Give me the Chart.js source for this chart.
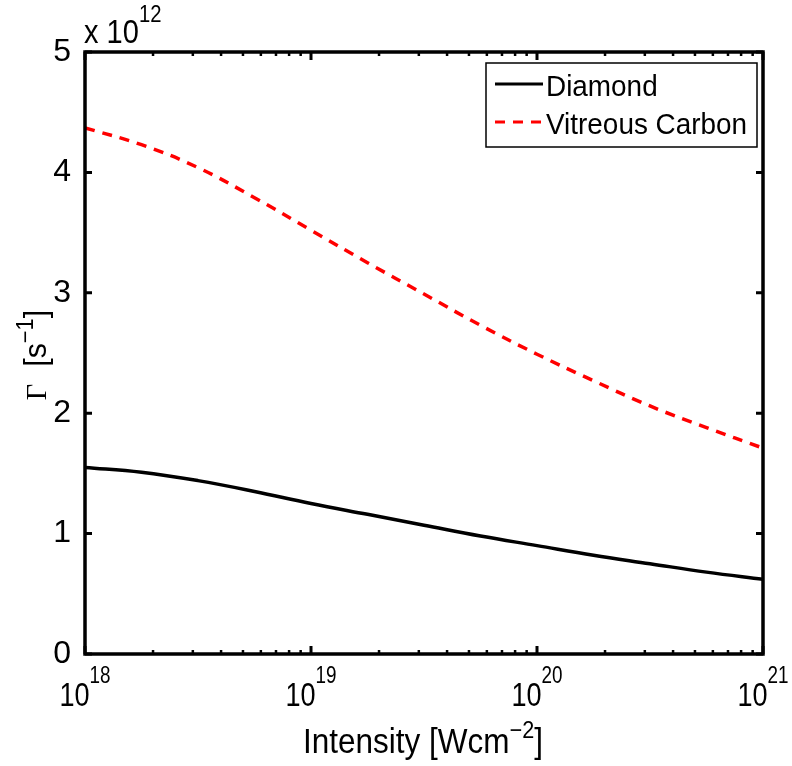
<!DOCTYPE html>
<html>
<head>
<meta charset="utf-8">
<script src="https://cdn.jsdelivr.net/npm/chart.js@4.4.0/dist/chart.umd.min.js"></script>
<style>
  html, body { margin: 0; padding: 0; background: #fff; }
  #wrap { width: 792px; height: 766px; }
</style>
</head>
<body>
<div id="wrap"><canvas id="gammaChart" width="792" height="766"></canvas></div>
<script>
// intensity [W/cm^2], quarter decade steps
const intensity = [1e18, 1.778e18, 3.162e18, 5.623e18, 1e19, 1.778e19, 3.162e19, 5.623e19, 1e20, 1.778e20, 3.162e20, 5.623e20, 1e21];
// rate Gamma, in units of 1e12 s^-1
const diamondRate  = [1.55, 1.51, 1.44, 1.35, 1.25, 1.16, 1.07, 0.98, 0.90, 0.82, 0.75, 0.68, 0.62];
const vitreousRate = [4.37, 4.23, 4.04, 3.79, 3.52, 3.25, 2.99, 2.73, 2.49, 2.27, 2.06, 1.88, 1.71];
const seriesNames = ['Diamond', 'Vitreous Carbon'];
const xDecades = [18, 19, 20, 21];
const yTickValues = [0, 1, 2, 3, 4, 5];

const SANS = '"Liberation Sans", Arial, sans-serif';
const SERIF = '"Liberation Serif", "DejaVu Serif", serif';

function toPoints(ys) {
    return intensity.map((x, i) => ({ x: x, y: ys[i] }));
}

// text made of pieces {t, size, rise, font}, squeezed horizontally by sx
function drawPieces(ctx, pieces, x, y, align, sx) {
    sx = sx || 1;
    let total = 0;
    pieces.forEach(p => {
        ctx.font = p.size + 'px ' + (p.font || SANS);
        p.w = ctx.measureText(p.t).width;
        total += p.w;
    });
    ctx.save();
    ctx.translate(x, y);
    ctx.scale(sx, 1);
    let cx = align === 'center' ? -total / 2 : 0;
    ctx.textAlign = 'left';
    ctx.textBaseline = 'alphabetic';
    pieces.forEach(p => {
        ctx.font = p.size + 'px ' + (p.font || SANS);
        ctx.fillText(p.t, cx, -(p.rise || 0));
        cx += p.w;
    });
    ctx.restore();
}

const matlabAxes = {
    id: 'matlabAxes',
    afterDraw(chart) {
        const ctx = chart.ctx;
        const area = chart.chartArea;
        const xs = chart.scales.x;
        const ys = chart.scales.y;
        ctx.save();
        ctx.fillStyle = '#000';
        ctx.strokeStyle = '#000';

        // y ticks, pointing inward on both sides
        ctx.lineWidth = 3;
        yTickValues.forEach(v => {
            const py = ys.getPixelForValue(v);
            ctx.beginPath();
            ctx.moveTo(area.left, py); ctx.lineTo(area.left + 7, py);
            ctx.moveTo(area.right, py); ctx.lineTo(area.right - 7, py);
            ctx.stroke();
        });

        // x ticks, major and minor (log)
        xDecades.forEach((e, k) => {
            const majorX = xs.getPixelForValue(Math.pow(10, e));
            ctx.lineWidth = 3;
            ctx.beginPath();
            ctx.moveTo(majorX, area.bottom); ctx.lineTo(majorX, area.bottom - 8);
            ctx.moveTo(majorX, area.top); ctx.lineTo(majorX, area.top + 8);
            ctx.stroke();
            if (k === xDecades.length - 1) return;
            ctx.lineWidth = 2.5;
            for (let m = 2; m <= 9; m++) {
                const px = xs.getPixelForValue(m * Math.pow(10, e));
                ctx.beginPath();
                ctx.moveTo(px, area.bottom); ctx.lineTo(px, area.bottom - 4);
                ctx.moveTo(px, area.top); ctx.lineTo(px, area.top + 4);
                ctx.stroke();
            }
        });

        // frame
        ctx.lineWidth = 3.5;
        ctx.strokeRect(area.left, area.top, area.right - area.left, area.bottom - area.top);

        // x tick labels 10^n
        xDecades.forEach(e => {
            const px = xs.getPixelForValue(Math.pow(10, e));
            drawPieces(ctx, [
                { t: '10', size: 33 },
                { t: String(e), size: 23, rise: 23 }
            ], px, 706, 'center', 0.82);
        });

        // exponent above the y axis
        drawPieces(ctx, [
            { t: 'x 10', size: 33 },
            { t: '12', size: 23, rise: 21 }
        ], area.left - 1, 43, 'left', 0.88);

        // x title
        drawPieces(ctx, [
            { t: 'Intensity [Wcm', size: 35 },
            { t: '\u22122', size: 24, rise: 15 },
            { t: ']', size: 35 }
        ], 423, 753, 'center', 0.9);

        // y title, rotated
        ctx.save();
        ctx.translate(46, 355);
        ctx.rotate(-Math.PI / 2);
        drawPieces(ctx, [
            { t: '\u0393', size: 30, font: SERIF },
            { t: '  [s', size: 32 },
            { t: '\u22121', size: 23, rise: 13 },
            { t: ']', size: 32 }
        ], 0, 0, 'center', 0.95);
        ctx.restore();

        // legend box
        const box = { left: 486, top: 63, right: 757, bottom: 147 };
        ctx.fillStyle = '#fff';
        ctx.fillRect(box.left, box.top, box.right - box.left, box.bottom - box.top);
        ctx.lineWidth = 1.5;
        ctx.strokeStyle = '#000';
        ctx.strokeRect(box.left, box.top, box.right - box.left, box.bottom - box.top);
        const rows = [84, 122];
        chart.data.datasets.forEach((ds, i) => {
            const ry = rows[i];
            ctx.save();
            ctx.strokeStyle = ds.borderColor;
            ctx.lineWidth = 3;
            ctx.setLineDash(ds.borderDash || []);
            ctx.beginPath();
            ctx.moveTo(495, ry); ctx.lineTo(543, ry);
            ctx.stroke();
            ctx.restore();
            ctx.fillStyle = '#000';
            drawPieces(ctx, [{ t: ds.label, size: 30 }], 546, ry + 12, 'left', 0.93);
        });
        ctx.restore();
    }
};

new Chart(document.getElementById('gammaChart'), {
    type: 'line',
    data: {
        datasets: [
            {
                label: seriesNames[0],
                data: toPoints(diamondRate),
                borderColor: '#000000',
                borderWidth: 3.5,
                pointRadius: 0,
                tension: 0.4,
                fill: false
            },
            {
                label: seriesNames[1],
                data: toPoints(vitreousRate),
                borderColor: '#ff0000',
                borderWidth: 3.5,
                borderDash: [10, 8],
                pointRadius: 0,
                tension: 0.4,
                fill: false
            }
        ]
    },
    options: {
        responsive: false,
        animation: false,
        devicePixelRatio: 1,
        layout: { padding: { top: 52, right: 29, left: 0, bottom: 0 } },
        plugins: {
            legend: { display: false },
            tooltip: { enabled: false }
        },
        scales: {
            x: {
                type: 'logarithmic',
                min: 1e18,
                max: 1e21,
                grid: { display: false },
                border: { display: false },
                ticks: { display: false },
                afterFit(scale) { scale.height = 112; }
            },
            y: {
                min: 0,
                max: 5,
                grid: { display: false },
                border: { display: false },
                ticks: {
                    stepSize: 1,
                    color: '#000',
                    padding: 6,
                    font: { family: SANS, size: 32 }
                },
                afterFit(scale) { scale.width = 85; }
            }
        }
    },
    plugins: [matlabAxes]
});
</script>
</body>
</html>
